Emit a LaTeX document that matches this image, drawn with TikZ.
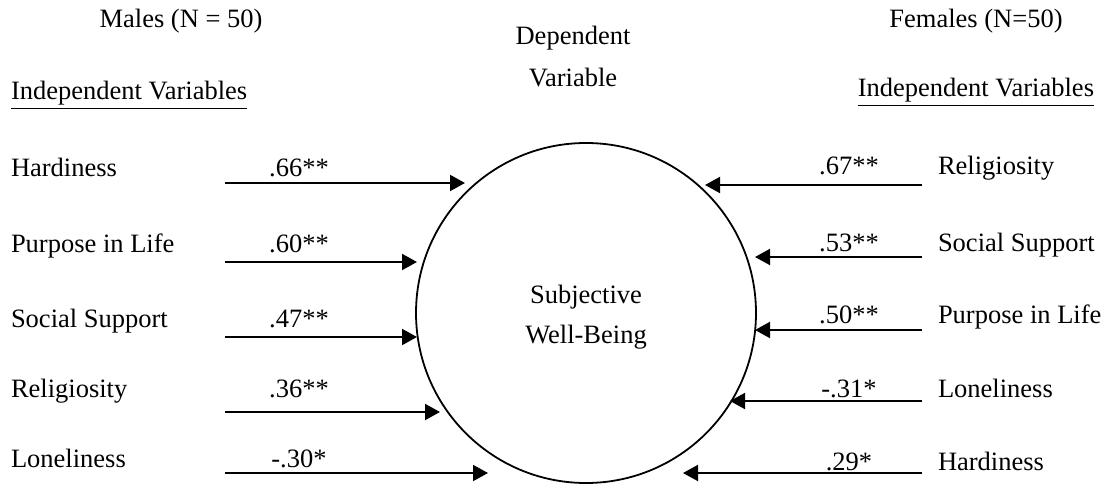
\documentclass[tikz,border=0pt]{standalone}
\usepackage{fontspec}
\setmainfont{Liberation Serif}
\usetikzlibrary{arrows.meta}
\begin{document}
\fontsize{13.25}{16}\selectfont
\begin{tikzpicture}[x=0.5pt,y=0.5pt,line width=1pt,
  >={Triangle[length=7.5pt,width=8pt]}]
\tikzstyle{every node}+=[inner sep=0pt]
\useasboundingbox (0,0) rectangle (1102,-486);
% headings
\draw (181,-28) node [anchor=base] (males) {Males (N = 50)};
\draw (976,-28) node [anchor=base] (females) {Females (N=50)};
\draw (573,-45) node [anchor=base] (dep1) {Dependent};
\draw (573,-87) node [anchor=base] (dep2) {Variable};
\draw (10,-100) node [anchor=base west] (indL) {\underline{Independent Variables}};
\draw (1095,-97) node [anchor=base east] (indR) {\underline{Independent Variables}};
% dependent variable
\draw[line width=0.9pt] (586,-313) circle (170);
\draw (586,-303) node [anchor=base] (swb1) {Subjective};
\draw (586,-343) node [anchor=base] (swb2) {Well-Being};
% males
\draw (10,-177) node [anchor=base west] (mHard) {Hardiness};
\draw (299,-177) node [anchor=base] (mHardV) {.66**};
\coordinate (mHardS) at (225,-183);
\coordinate (mHardE) at (465,-183);
\draw[->] (mHardS) -- (mHardE);
\draw (10,-253) node [anchor=base west] (mPurp) {Purpose in Life};
\draw (299,-253) node [anchor=base] (mPurpV) {.60**};
\coordinate (mPurpS) at (225,-262);
\coordinate (mPurpE) at (417,-262);
\draw[->] (mPurpS) -- (mPurpE);
\draw (10,-327) node [anchor=base west] (mSoc) {Social Support};
\draw (299,-327) node [anchor=base] (mSocV) {.47**};
\coordinate (mSocS) at (225,-337);
\coordinate (mSocE) at (417,-337);
\draw[->] (mSocS) -- (mSocE);
\draw (10,-397) node [anchor=base west] (mRel) {Religiosity};
\draw (299,-397) node [anchor=base] (mRelV) {.36**};
\coordinate (mRelS) at (225,-412);
\coordinate (mRelE) at (440,-412);
\draw[->] (mRelS) -- (mRelE);
\draw (10,-467) node [anchor=base west] (mLone) {Loneliness};
\draw (299,-467) node [anchor=base] (mLoneV) {-.30*};
\coordinate (mLoneS) at (225,-473);
\coordinate (mLoneE) at (488,-473);
\draw[->] (mLoneS) -- (mLoneE);
% females
\draw (937,-175) node [anchor=base west] (fRel) {Religiosity};
\draw (849,-175) node [anchor=base] (fRelV) {.67**};
\coordinate (fRelS) at (922,-185);
\coordinate (fRelE) at (705,-185);
\draw[->] (fRelS) -- (fRelE);
\draw (937,-251) node [anchor=base west] (fSoc) {Social Support};
\draw (849,-251) node [anchor=base] (fSocV) {.53**};
\coordinate (fSocS) at (922,-257);
\coordinate (fSocE) at (755,-257);
\draw[->] (fSocS) -- (fSocE);
\draw (937,-323) node [anchor=base west] (fPurp) {Purpose in Life};
\draw (849,-323) node [anchor=base] (fPurpV) {.50**};
\coordinate (fPurpS) at (922,-330);
\coordinate (fPurpE) at (755,-330);
\draw[->] (fPurpS) -- (fPurpE);
\draw (937,-397) node [anchor=base west] (fLone) {Loneliness};
\draw (849,-397) node [anchor=base] (fLoneV) {-.31*};
\coordinate (fLoneS) at (922,-401);
\coordinate (fLoneE) at (730,-401);
\draw[->] (fLoneS) -- (fLoneE);
\draw (937,-470) node [anchor=base west] (fHard) {Hardiness};
\draw (849,-470) node [anchor=base] (fHardV) {.29*};
\coordinate (fHardS) at (922,-473);
\coordinate (fHardE) at (683,-473);
\draw[->] (fHardS) -- (fHardE);
\end{tikzpicture}
\end{document}
